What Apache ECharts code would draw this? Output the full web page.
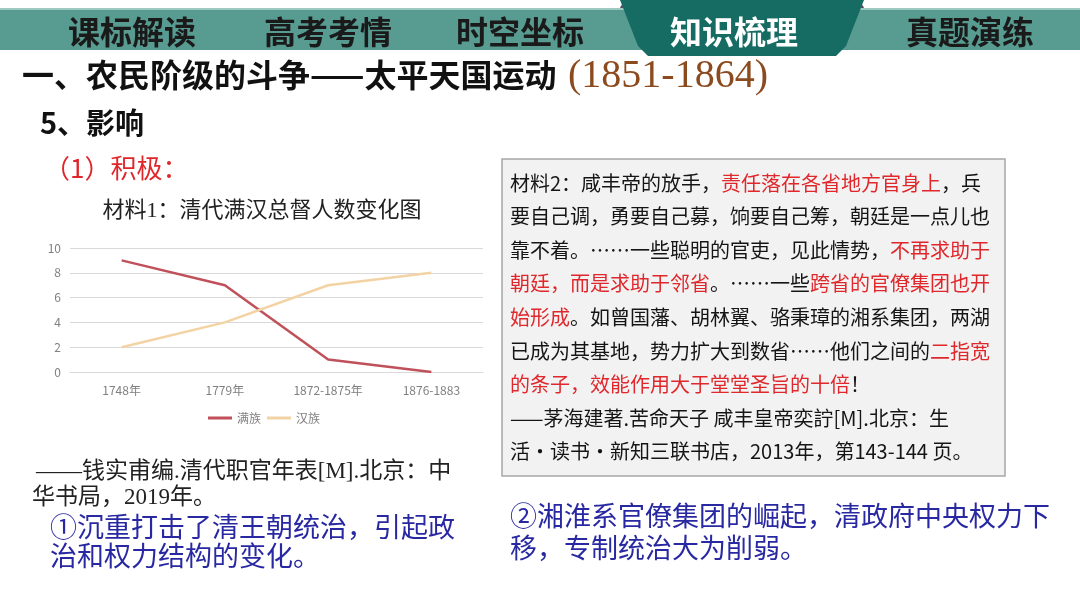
<!DOCTYPE html>
<html>
<head>
<meta charset="utf-8">
<script src="https://cdn.jsdelivr.net/npm/echarts@6/dist/echarts.min.js"></script>
<style>
html,body{margin:0;padding:0;background:#fff;}
#main{width:1080px;height:608px;}
</style>
</head>
<body>
<div id="main"></div>
<script>
// ---- chart data ----
const categories = ['1748年', '1779年', '1872-1875年', '1876-1883'];
const manchu = [9, 7, 1, 0];   // 满族
const han = [2, 4, 7, 8];      // 汉族
const seriesNames = ['满族', '汉族'];
const yTicks = { min: 0, max: 10, interval: 2 };

// ---- slide texts ----
const navItems = ['课标解读', '高考考情', '时空坐标', '知识梳理', '真题演练'];
const navCenters = [132, 328, 520, 734, 970];
const chartTitle = '材料1：清代满汉总督人数变化图';
const citation1 = ['——钱实甫编.清代职官年表[M].北京：中', '华书局，2019年。'];
const point1 = ['①沉重打击了清王朝统治，引起政', '治和权力结构的变化。'];
const point2 = ['②湘淮系官僚集团的崛起，清政府中央权力下', '移，专制统治大为削弱。'];
const boxLines = [
  '材料2：咸丰帝的放手，{r|责任落在各省地方官身上}，兵',
  '要自己调，勇要自己募，饷要自己筹，朝廷是一点儿也',
  '靠不着。……一些聪明的官吏，见此情势，{r|不再求助于}',
  '{r|朝廷，而是求助于邻省}。……一些{r|跨省的官僚集团也开}',
  '{r|始形成}。如曾国藩、胡林翼、骆秉璋的湘系集团，两湖',
  '已成为其基地，势力扩大到数省……他们之间的{r|二指宽}',
  '{r|的条子，效能作用大于堂堂圣旨的十倍}！',
  '——茅海建著.苦命天子 咸丰皇帝奕詝[M].北京：生',
  '活·读书·新知三联书店，2013年，第143-144 页。'
];

const SANS = '"Noto Sans CJK SC", "Noto Sans", sans-serif';
const SERIF = '"Liberation Serif", "DejaVu Serif", "Noto Sans CJK SC", serif';

const graphics = [];
// nav bar
graphics.push({ type: 'circle', shape: { cx: 632, cy: 13, r: 13 }, style: { fill: '#5b4c60' }, z: 1 });
graphics.push({ type: 'circle', shape: { cx: 852, cy: 13, r: 13 }, style: { fill: '#5b4c60' }, z: 1 });
graphics.push({ type: 'rect', shape: { x: 0, y: 8, width: 1080, height: 42 }, style: { fill: '#579b91' }, z: 2 });
graphics.push({ type: 'rect', shape: { x: 0, y: 8, width: 1080, height: 2 }, style: { fill: '#9cc9c0' }, z: 2 });
graphics.push({ type: 'polygon', shape: { points: [[620,0],[864,0],[846,46],[836,56],[648,56],[638,46]], smooth: 0 }, style: { fill: '#166b62' }, z: 3 });
navItems.forEach((t, i) => {
  graphics.push({ type: 'text', x: navCenters[i], y: 32, z: 4,
    style: { text: t, fill: i === 3 ? '#ffffff' : '#1a1a1a', font: 'bold 32px ' + SANS, textAlign: 'center', textVerticalAlign: 'middle' } });
});
// headings
graphics.push({ type: 'text', x: 22, y: 75, z: 4,
  style: { text: '一、农民阶级的斗争——太平天国运动', fill: '#111', font: 'bold 32px ' + SANS, textVerticalAlign: 'middle' } });
graphics.push({ type: 'text', x: 568, y: 76, z: 4,
  style: { text: '(1851-1864)', fill: '#8c4b1f', font: '40px ' + SERIF, textVerticalAlign: 'middle' } });
graphics.push({ type: 'text', x: 40, y: 123, z: 4,
  style: { text: '5、影响', fill: '#111', font: 'bold 29px ' + SANS, textVerticalAlign: 'middle' } });
graphics.push({ type: 'text', x: 44, y: 168, z: 4,
  style: { text: '（1）积极：', fill: '#e0262a', font: '26px ' + SANS, textVerticalAlign: 'middle' } });
// chart title
graphics.push({ type: 'text', x: 262, y: 211, z: 4,
  style: { text: chartTitle, fill: '#222', font: '22px ' + SERIF, textAlign: 'center', textVerticalAlign: 'middle' } });
// citation 1
graphics.push({ type: 'text', x: 36, y: 472, z: 4,
  style: { text: citation1[0], fill: '#222', font: '23px ' + SERIF, textVerticalAlign: 'middle' } });
graphics.push({ type: 'text', x: 32, y: 498, z: 4,
  style: { text: citation1[1], fill: '#222', font: '23px ' + SERIF, textVerticalAlign: 'middle' } });
// blue points
point1.forEach((t, i) => graphics.push({ type: 'text', x: 50, y: 527 + i * 29, z: 4,
  style: { text: t, fill: '#2828a2', font: '27px ' + SANS, textVerticalAlign: 'middle' } }));
point2.forEach((t, i) => graphics.push({ type: 'text', x: 510, y: 516 + i * 32, z: 4,
  style: { text: t, fill: '#2828a2', font: '27px ' + SANS, textVerticalAlign: 'middle' } }));
// material box
graphics.push({ type: 'rect', shape: { x: 502, y: 159, width: 503, height: 317 },
  style: { fill: '#f2f2f2', stroke: '#a6a6a6', lineWidth: 1.5 }, z: 2 });
boxLines.forEach((t, i) => graphics.push({ type: 'text', x: 510, y: 183 + i * 33.6, z: 4,
  style: { text: t, fill: '#151515', font: '20px ' + SANS, textVerticalAlign: 'middle',
    rich: { r: { fill: '#e0282c', font: '20px ' + SANS } } } }));

const chart = echarts.init(document.getElementById('main'));
chart.setOption({
  animation: false,
  backgroundColor: '#ffffff',
  grid: { left: 70, right: 597, top: 248, bottom: 236 },
  legend: {
    data: seriesNames, left: 208, top: 412, padding: 0, itemGap: 6,
    icon: 'rect', itemWidth: 24, itemHeight: 3,
    textStyle: { fontSize: 12, color: '#7f7f7f', fontFamily: SANS }
  },
  xAxis: {
    type: 'category', data: categories, boundaryGap: true,
    axisLine: { show: true, lineStyle: { color: '#d9d9d9' } },
    axisTick: { show: false },
    axisLabel: { color: '#7f7f7f', fontSize: 12, margin: 12, fontFamily: SANS }
  },
  yAxis: {
    type: 'value', min: yTicks.min, max: yTicks.max, interval: yTicks.interval,
    axisLine: { show: false }, axisTick: { show: false },
    axisLabel: { color: '#7f7f7f', fontSize: 12, margin: 9, fontFamily: SANS },
    splitLine: { lineStyle: { color: '#d9d9d9' } }
  },
  series: [
    { name: seriesNames[0], type: 'line', data: manchu, showSymbol: false, symbol: 'none',
      lineStyle: { color: '#c0505a', width: 2.5 }, itemStyle: { color: '#c0505a' } },
    { name: seriesNames[1], type: 'line', data: han, showSymbol: false, symbol: 'none',
      lineStyle: { color: '#f3d3a4', width: 2.5 }, itemStyle: { color: '#f3d3a4' } }
  ],
  graphic: graphics
});
</script>
</body>
</html>
